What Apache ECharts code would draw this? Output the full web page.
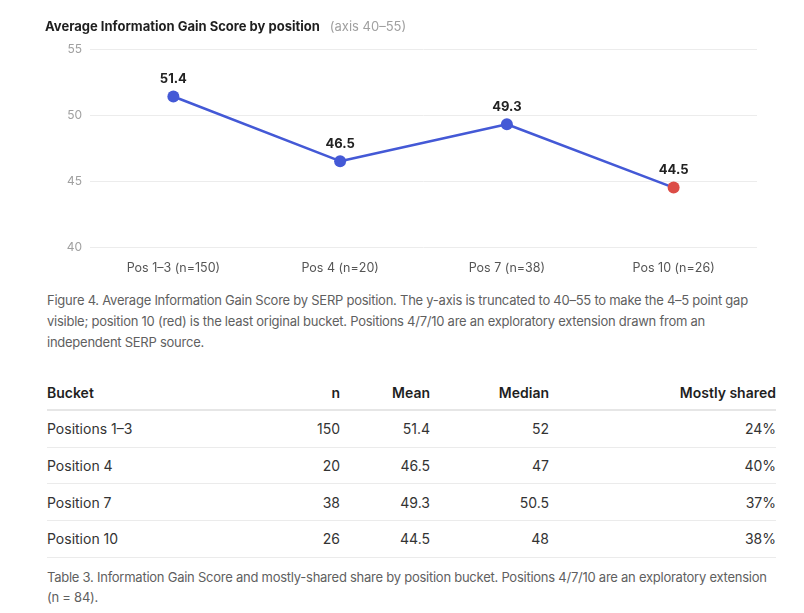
<!DOCTYPE html>
<html>
<head>
<meta charset="utf-8">
<script src="https://cdn.jsdelivr.net/npm/echarts@6/dist/echarts.min.js"></script>
<style>
  body { margin: 0; background: #fff; font-family: Inter, "Noto Sans", sans-serif; }
  #chart { position: absolute; left: 0; top: 0; width: 804px; height: 285px; }
  .cap { position: absolute; left: 47px; width: 730px; font-size: 13px; letter-spacing: -0.25px; color: #5f5f5f; line-height: 21px; }
  #tbl { position: absolute; left: 47px; top: 376px; width: 729px; border-collapse: collapse; table-layout: fixed; font-size: 14px; color: #333; }
  #tbl th { font-weight: 600; color: #1f1f1f; height: 33px; border-bottom: 2px solid #e6e6e6; padding: 0; }
  #tbl td { height: 35.7px; border-bottom: 1px solid #ebebeb; padding: 0; }
  #tbl .l { text-align: left; }
  #tbl .r { text-align: right; }
</style>
</head>
<body>
<div id="chart"></div>
<div class="cap" style="top:290px">Figure 4. Average Information Gain Score by SERP position. The y-axis is truncated to 40–55 to make the 4–5 point gap visible; position 10 (red) is the least original bucket. Positions 4/7/10 are an exploratory extension drawn from an independent SERP source.</div>
<table id="tbl">
  <colgroup><col style="width:213px"><col style="width:80px"><col style="width:90px"><col style="width:119px"><col style="width:227px"></colgroup>
  <thead><tr><th class="l">Bucket</th><th class="r">n</th><th class="r">Mean</th><th class="r">Median</th><th class="r">Mostly shared</th></tr></thead>
  <tbody id="tbody"></tbody>
</table>
<div class="cap" style="top:567px; line-height:20px">Table 3. Information Gain Score and mostly-shared share by position bucket. Positions 4/7/10 are an exploratory extension (n = 84).</div>
<script>
var positions = ['Pos 1–3', 'Pos 4', 'Pos 7', 'Pos 10'];
var buckets = ['Positions 1–3', 'Position 4', 'Position 7', 'Position 10'];
var nValues = [150, 20, 38, 26];
var means = [51.4, 46.5, 49.3, 44.5];
var medians = [52, 47, 50.5, 48];
var sharedPct = [24, 40, 37, 38];

var blue = '#4459d6';
var red = '#dc4c46';

var chart = echarts.init(document.getElementById('chart'));

var cats = positions.map(function (p, i) { return p + ' (n=' + nValues[i] + ')'; });

var option = {
    animation: false,
    title: {
        left: 40,
        top: 13,
        text: '{a|Average Information Gain Score by position}  {b|(axis 40–55)}',
        textStyle: {
            rich: {
                a: { fontFamily: 'Inter', fontSize: 13, fontWeight: 'bold', color: '#1f1f1f' },
                b: { fontFamily: 'Inter', fontSize: 13, fontWeight: 'normal', color: '#a0a0a0' }
            }
        }
    },
    grid: { left: 90, right: 47, top: 49, bottom: 38 },
    xAxis: {
        type: 'category',
        data: cats,
        axisLine: { show: false },
        axisTick: { show: false },
        axisLabel: { fontFamily: 'Inter', fontSize: 12.5, color: '#555', margin: 15 }
    },
    yAxis: {
        type: 'value',
        min: 40,
        max: 55,
        interval: 5,
        axisLine: { show: false },
        axisTick: { show: false },
        axisLabel: { fontFamily: 'Inter', fontSize: 12, color: '#a0a0a0', margin: 8 },
        splitLine: { lineStyle: { color: '#ececec', width: 1 } }
    },
    series: [{
        type: 'line',
        data: means.map(function (v, i) {
            return { value: v, itemStyle: { color: i === means.length - 1 ? red : blue } };
        }),
        symbol: 'circle',
        symbolSize: 12,
        lineStyle: { color: blue, width: 2.5 },
        itemStyle: { color: blue },
        label: {
            show: true,
            position: 'top',
            distance: 5,
            fontFamily: 'Inter',
            fontSize: 13,
            fontWeight: 'bold',
            color: '#222',
            formatter: function (p) { return p.value.toFixed(1); }
        }
    }]
};

chart.setOption(option);

var rows = '';
for (var i = 0; i < buckets.length; i++) {
    rows += '<tr><td class="l">' + buckets[i] + '</td><td class="r">' + nValues[i] +
        '</td><td class="r">' + means[i] + '</td><td class="r">' + medians[i] +
        '</td><td class="r">' + sharedPct[i] + '%</td></tr>';
}
document.getElementById('tbody').innerHTML = rows;
</script>
</body>
</html>
